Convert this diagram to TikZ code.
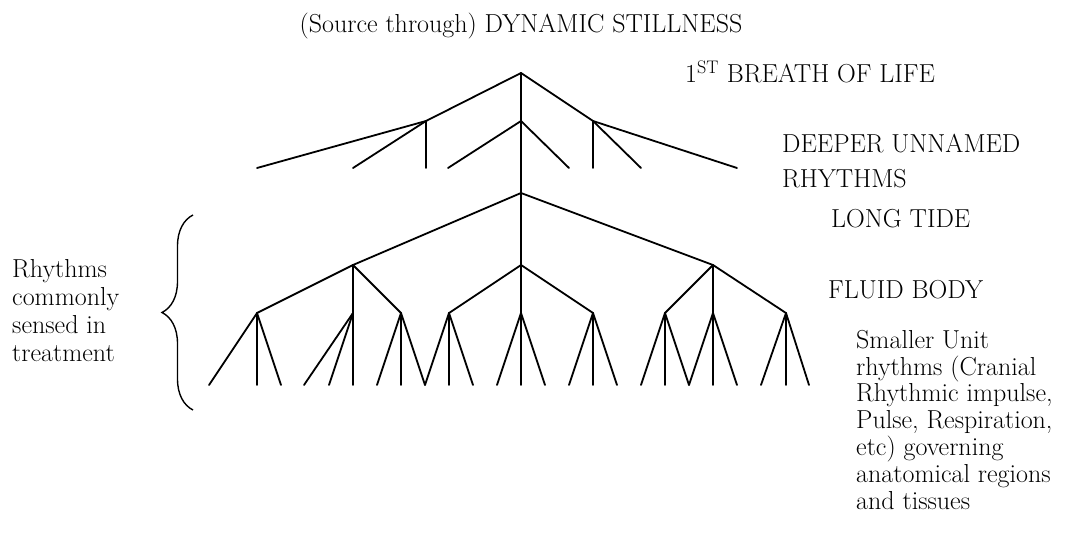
\documentclass[tikz,border=0pt]{standalone}
\usetikzlibrary{decorations.pathreplacing}
\begin{document}
\begin{tikzpicture}[x=1pt,y=-1pt,
  edge/.style={line width=1.8pt, line cap=round, line join=miter},
  lbl/.style={inner sep=0pt, anchor=base west, align=left, font=\fontsize{26}{27}\selectfont},
  ttl/.style={inner sep=0pt, anchor=base, font=\fontsize{26}{27}\selectfont},
  bracestyle/.style={line width=1.4pt, decorate, decoration={brace, amplitude=31pt}}]
\useasboundingbox (0,0) rectangle (1078,540);
% upper tree
\coordinate (A) at (521,73);
\coordinate (B1) at (426,121);
\coordinate (B2) at (521,121);
\coordinate (B3) at (593,121);
\foreach \n/\x in {l1/257,l2/353,l3/426,l4/448,l5/569,l6/593,l7/641,l8/737}
  \coordinate (\n) at (\x,168);
\draw[edge] (A) -- (B1);
\draw[edge] (A) -- (B2);
\draw[edge] (A) -- (B3);
\draw[edge] (B1) -- (l1);
\draw[edge] (B1) -- (l2);
\draw[edge] (B1) -- (l3);
\draw[edge] (B2) -- (l4);
\draw[edge] (B2) -- (l5);
\draw[edge] (B3) -- (l6);
\draw[edge] (B3) -- (l7);
\draw[edge] (B3) -- (l8);
% lower tree
\coordinate (C) at (521,193);
\coordinate (D1) at (353,265);
\coordinate (D2) at (521,265);
\coordinate (D3) at (713,265);
\draw[edge] (B2) -- (C);
\draw[edge] (C) -- (D1);
\draw[edge] (C) -- (D2);
\draw[edge] (C) -- (D3);
\foreach \n/\x in {E1/257,E2/353,E3/401,E4/449,E5/521,E6/593,E7/665,E8/713,E9/786}
  \coordinate (\n) at (\x,313);
\draw[edge] (D1) -- (E1);
\draw[edge] (D1) -- (E2);
\draw[edge] (D1) -- (E3);
\draw[edge] (D2) -- (E4);
\draw[edge] (D2) -- (E5);
\draw[edge] (D2) -- (E6);
\draw[edge] (D3) -- (E7);
\draw[edge] (D3) -- (E8);
\draw[edge] (D3) -- (E9);
\foreach \p/\a/\b/\c in {E1/209/257/281, E2/304/329/353, E3/377/401/425,
    E4/425/449/473, E5/497/521/545, E6/569/593/617, E7/641/665/689,
    E8/689/713/737, E9/761/786/809} {
  \coordinate (\p a) at (\a,385);
  \coordinate (\p b) at (\b,385);
  \coordinate (\p c) at (\c,385);
  \draw[edge] (\p) -- (\p a);
  \draw[edge] (\p) -- (\p b);
  \draw[edge] (\p) -- (\p c);
}
% brace
\coordinate (brB) at (193,410);
\coordinate (brT) at (193,215);
\draw[bracestyle] (brB) -- (brT);
% labels (multi-line nodes: base = last line's baseline)
\node[ttl] (title) at (521,33) {(Source through) DYNAMIC STILLNESS};
\node[lbl] (breath) at (685,83) {1\textsuperscript{ST} BREATH OF LIFE};
\node[lbl, font=\fontsize{26}{34}\selectfont] (deeper) at (782,187) {DEEPER UNNAMED\\RHYTHMS};
\node[lbl] (tide) at (831,227) {LONG TIDE};
\node[lbl] (fluid) at (828,298) {FLUID BODY};
\node[lbl, font=\fontsize{26}{28}\selectfont] (sensed) at (12,361) {Rhythms\\commonly\\sensed in\\treatment};
\node[lbl, font=\fontsize{26}{26.8}\selectfont] (unit) at (856,509) {Smaller Unit\\rhythms (Cranial\\Rhythmic impulse,\\Pulse, Respiration,\\etc) governing\\anatomical regions\\and tissues};
\end{tikzpicture}
\end{document}
